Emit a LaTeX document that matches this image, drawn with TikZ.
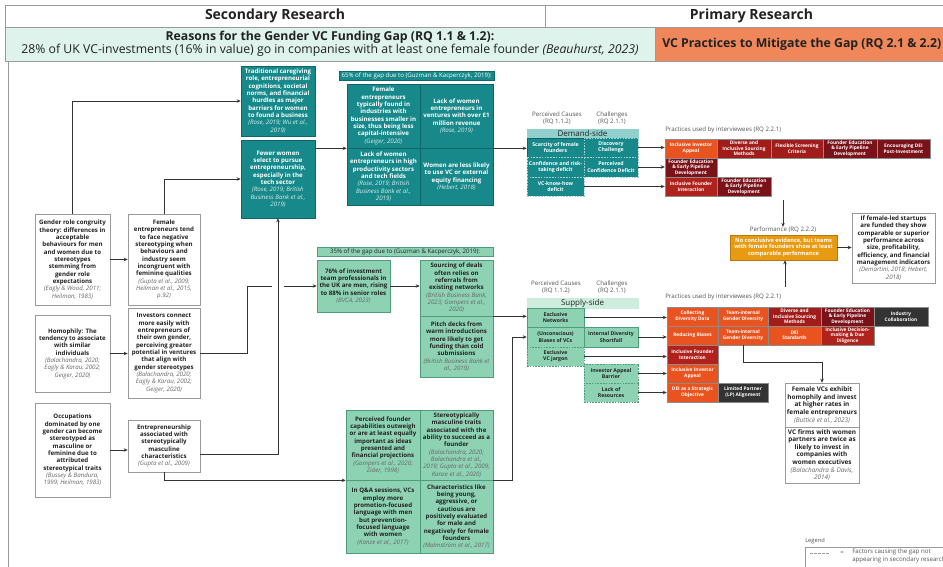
\documentclass[tikz,border=0pt]{standalone}
\usepackage{fontspec}
\setmainfont{Open Sans}
\usetikzlibrary{arrows.meta}
\definecolor{tealA}{HTML}{17898A}
\definecolor{tealD}{HTML}{0E6667}
\definecolor{tealL}{HTML}{92D0CE}
\definecolor{mintA}{HTML}{8ED2B4}
\definecolor{mintD}{HTML}{4E9C7C}
\definecolor{mintL}{HTML}{CDEDDF}
\definecolor{hdrmint}{HTML}{DDF3EC}
\definecolor{salmon}{HTML}{EF875A}
\definecolor{porange}{HTML}{E8531F}
\definecolor{pred}{HTML}{B0231C}
\definecolor{pdark}{HTML}{A11D1B}
\definecolor{pmaroon}{HTML}{7A1219}
\definecolor{pgrey}{HTML}{333333}
\definecolor{amber}{HTML}{E89A12}
\definecolor{boxgray}{HTML}{9A9A9A}
\definecolor{txtdark}{HTML}{222222}
\definecolor{citeg}{HTML}{666666}
\definecolor{lblg}{HTML}{555555}
\definecolor{linec}{HTML}{333333}
\newcommand\bx[7]{\node[#6, minimum width={(#4-(#2))*0.75pt}, minimum height={(#5-(#3))*0.75pt}] (#1) at ({(#2+#4)/2},{(#3+#5)/2}) {#7};}
\newcommand\cg[1]{{\mdseries\itshape\color{citeg}#1}}
\newcommand\cw[1]{{\mdseries\itshape\color{white!85!tealA}#1}}
\tikzset{
 base/.style={inner sep=0pt, align=center, font=\bfseries\fontsize{4.6}{5.5}\selectfont},
 wbox/.style={base, draw=boxgray, fill=white, text=txtdark, line width=0.5pt},
 tbox/.style={base, draw=tealD, fill=tealA, text=white, line width=0.5pt},
 gbox/.style={base, draw=mintD, fill=mintA, text=txtdark, line width=0.5pt},
 pc/.style={inner sep=0pt, align=center, font=\bfseries\fontsize{3.6}{4.2}\selectfont, text=white, draw=black!45, line width=0.35pt, fill=#1},
 dc/.style={inner sep=0pt, align=center, font=\bfseries\fontsize{3.9}{4.6}\selectfont, text=white, fill=tealA, draw=tealD, line width=0.5pt},
 sc/.style={inner sep=0pt, align=center, font=\bfseries\fontsize{3.9}{4.6}\selectfont, text=txtdark, fill=mintA, draw=mintD, line width=0.5pt},
 dsh/.style={dash pattern=on 1.2pt off 0.9pt},
 lbl/.style={inner sep=0pt, align=center, font=\fontsize{4.6}{5.6}\selectfont, text=lblg},
 arr/.style={draw=linec, line width=0.55pt, -{Stealth[length=3pt,width=2.6pt]}},
 ln/.style={draw=linec, line width=0.55pt},
 hcell/.style={inner sep=0pt, align=center, draw=boxgray, line width=0.5pt, text=txtdark},
}
\begin{document}
\begin{tikzpicture}[x=0.75pt,y=-0.75pt]
\useasboundingbox (0,0) rectangle (943,567);
\fill[white] (0,0) rectangle (943,567);
% header
\bx{hsec}{5}{5}{545}{27}{hcell, fill=white, font=\bfseries\fontsize{10.5}{12}\selectfont}{Secondary Research}
\bx{hpri}{545}{5}{958}{27}{hcell, fill=white, font=\bfseries\fontsize{10.5}{12}\selectfont}{Primary Research}
\bx{hgap}{5}{27}{655}{61}{hcell, fill=hdrmint, font=\fontsize{9.2}{10}\selectfont}{\textbf{Reasons for the Gender VC Funding Gap (RQ 1.1 \& 1.2):}\\28\% of UK VC-investments (16\% in value) go in companies with at least one female founder \textit{(Beauhurst, 2023)}}
\bx{hvc}{655}{27}{958}{61}{hcell, fill=salmon}{}
\node[anchor=west, inner sep=0pt, font=\bfseries\fontsize{9.2}{10}\selectfont, text=txtdark] (hvct) at (662,44) {VC Practices to Mitigate the Gap (RQ 2.1 \& 2.2)};
\draw[boxgray, line width=0.5pt] (8,61) -- (8,567);

% left column
\bx{grc}{35}{214}{110}{305}{wbox}{Gender role congruity\\theory: differences in\\acceptable\\behaviours for men\\and women due to\\stereotypes\\stemming from\\gender role\\expectations\\\cg{(Eagly \& Wood, 2011;}\\\cg{Heilman, 1983)}}
\bx{hom}{35}{315}{110}{392}{wbox}{Homophily: The\\tendency to associate\\with similar\\individuals\\\cg{(Balachandra, 2020;}\\\cg{Eagly \& Karau, 2002;}\\\cg{Geiger, 2020)}}
\bx{occ}{35}{403}{110}{497}{wbox}{Occupations\\dominated by one\\gender can become\\stereotyped as\\masculine or\\feminine due to\\attributed\\stereotypical traits\\\cg{(Bussey \& Bandura,}\\\cg{1999; Heilman, 1983)}}
\bx{fem}{128}{214}{200}{305}{wbox}{Female\\entrepreneurs tend\\to face negative\\stereotyping when\\behaviours and\\industry seem\\incongruent with\\feminine qualities\\\cg{(Gupta et al., 2009;}\\\cg{Heilman et al., 2015,}\\\cg{p.92)}}
\bx{inv}{128}{308}{200}{398}{wbox}{Investors connect\\more easily with\\entrepreneurs of\\their own gender,\\perceiving greater\\potential in ventures\\that align with\\gender stereotypes\\\cg{(Balachandra, 2020;}\\\cg{Eagly \& Karau, 2002;}\\\cg{Geiger, 2020)}}
\bx{ent}{128}{420}{200}{472}{wbox}{Entrepreneurship\\associated with\\stereotypically\\masculine\\characteristics\\\cg{(Gupta et al., 2009)}}

% teal
\bx{trad}{241}{66}{315}{136}{tbox}{Traditional caregiving\\role, entrepreneurial\\cognitions, societal\\norms, and financial\\hurdles as major\\barriers for women\\to found a business\\\cw{(Rose, 2019; Wu et al.,}\\\cw{2019)}}
\bx{few}{241}{140}{315}{218}{tbox}{Fewer women\\select to pursue\\entrepreneurship,\\especially in the\\tech sector\\\cw{(Rose, 2019; British}\\\cw{Business Bank et al.,}\\\cw{2019)}}
\bx{b65}{339}{71}{494}{80}{fill=tealA, draw=tealD, text=white, inner sep=0pt, line width=0.5pt, font=\fontsize{4.6}{5}\selectfont}{65\% of the gap due to (Guzman \& Kacperczyk, 2019):}
\bx{g1}{347}{84}{420}{148}{tbox}{Female\\entrepreneurs\\typically found in\\industries with\\businesses smaller in\\size, thus being less\\capital-intensive\\\cw{(Geiger, 2020)}}
\bx{g2}{420}{84}{493}{148}{tbox}{Lack of women\\entrepreneurs in\\ventures with over £1\\million revenue\\\cw{(Rose, 2019)}}
\bx{g3}{347}{148}{420}{205}{tbox}{Lack of women\\entrepreneurs in high\\productivity sectors\\and tech fields\\\cw{(Rose, 2019; British}\\\cw{Business Bank et al.,}\\\cw{2019)}}
\bx{g4}{420}{148}{493}{205}{tbox}{Women are less likely\\to use VC or external\\equity financing\\\cw{(Hebert, 2018)}}

% middle green
\bx{b35}{317}{247}{493}{256}{fill=mintA, draw=mintD, text=txtdark, inner sep=0pt, line width=0.5pt, font=\fontsize{4.6}{5}\selectfont}{35\% of the gap due to (Guzman \& Kacperczyk, 2019):}
\bx{m76}{317}{260}{390}{312}{gbox}{76\% of investment\\team professionals in\\the UK are men, rising\\to 88\% in senior roles\\\cg{(BVCA, 2023)}}
\bx{src}{420}{260}{493}{316}{gbox}{Sourcing of deals\\often relies on\\referrals from\\existing networks\\\cg{(British Business Bank,}\\\cg{2023; Gompers et al.,}\\\cg{2020)}}
\bx{pit}{420}{316}{493}{377}{gbox}{Pitch decks from\\warm introductions\\more likely to get\\funding than cold\\submissions\\\cg{(British Business Bank et}\\\cg{al., 2019)}}

% bottom green grid
\bx{q1}{346}{410}{420}{480}{gbox}{Perceived founder\\capabilities outweigh\\or are at least equally\\important as ideas\\presented and\\financial projections\\\cg{(Gompers et al., 2020;}\\\cg{Zider, 1998)}}
\bx{q2}{420}{410}{493}{480}{gbox}{Stereotypically\\masculine traits\\associated with the\\ability to succeed as a\\founder\\\cg{(Balachandra, 2020;}\\\cg{Balachandra et al.,}\\\cg{2019; Gupta et al., 2009;}\\\cg{Kanze et al., 2020)}}
\bx{q3}{346}{480}{420}{553}{gbox}{In Q\&A sessions, VCs\\employ more\\promotion-focused\\language with men\\but prevention-\\focused language\\with women\\\cg{(Kanze et al., 2017)}}
\bx{q4}{420}{480}{493}{553}{gbox}{Characteristics like\\being young,\\aggressive, or\\cautious are\\positively evaluated\\for male and\\negatively for female\\founders\\\cg{(Malmström et al., 2017)}}

% demand side
\node[lbl] (pcd) at (557,118) {Perceived Causes\\(RQ 1.1.2)};
\node[lbl] (chd) at (612,118) {Challenges\\(RQ 2.1.1)};
\bx{dhd}{527}{129}{638}{138}{fill=tealL, draw=tealL, inner sep=0pt, font=\fontsize{6}{7}\selectfont, text=txtdark}{Demand-side}
\bx{d1}{527}{138}{584}{157}{dc}{Scarcity of female\\founders}
\bx{d2}{584}{138}{638}{157}{dc, dsh, draw=white!60!tealA}{Discovery\\Challenge}
\bx{d3}{527}{157}{584}{177}{dc, dsh, draw=white!60!tealA}{Confidence and risk-\\taking deficit}
\bx{d4}{584}{157}{638}{177}{dc, dsh, draw=white!60!tealA}{Perceived\\Confidence Deficit}
\bx{d5}{527}{177}{584}{196}{dc, dsh, draw=white!60!tealA}{VC-know-how\\deficit}

% practices top
\node[lbl, anchor=west] (ptl) at (665,130) {Practices used by interviewees (RQ 2.2.1)};
\bx{t11}{665}{139}{717}{158}{pc=porange}{Inclusive Investor\\Appeal}
\bx{t12}{717}{139}{771}{158}{pc=pdark}{Diverse and\\Inclusive Sourcing\\Methods}
\bx{t13}{771}{139}{823}{158}{pc=pdark}{Flexible Screening\\Criteria}
\bx{t14}{823}{139}{877}{158}{pc=pmaroon}{Founder Education\\\& Early Pipeline\\Development}
\bx{t15}{877}{139}{930}{158}{pc=pmaroon}{Encouraging DEI\\Post-Investment}
\bx{t21}{665}{158}{717}{177}{pc=pmaroon}{Founder Education\\\& Early Pipeline\\Development}
\bx{t31}{665}{177}{717}{196}{pc=pred}{Inclusive Founder\\Interaction}
\bx{t32}{717}{177}{771}{196}{pc=pmaroon}{Founder Education\\\& Early Pipeline\\Development}

% performance
\coordinate (pdn) at (783,200);
\node[lbl] (perfl) at (783,230) {Performance (RQ 2.2.2)};
\bx{perf}{730}{235}{837}{260}{fill=amber, draw=amber!80!black, line width=0.4pt, text=white, inner sep=0pt, align=center, font=\bfseries\fontsize{4.2}{5.2}\selectfont}{No conclusive evidence, but teams\\with female founders show at least\\comparable performance}
\bx{perfr}{852}{213}{935}{283}{wbox}{If female-led startups\\are funded they show\\comparable or superior\\performance across\\size, profitability,\\efficiency, and financial\\management indicators\\\cg{(Demartini, 2018; Hebert,}\\\cg{2018)}}
\coordinate (pup) at (785,287);

% supply side
\node[lbl] (pcs) at (556,287) {Perceived Causes\\(RQ 1.1.2)};
\node[lbl] (chs) at (612,287) {Challenges\\(RQ 2.1.1)};
\bx{shd}{527}{298}{638}{308}{fill=mintL, draw=mintL, inner sep=0pt, font=\fontsize{6}{7}\selectfont, text=txtdark}{Supply-side}
\bx{s1}{527}{308}{584}{327}{sc}{Exclusive\\Networks}
\bx{s2}{527}{327}{584}{347}{sc}{(Unconscious)\\Biases of VCs}
\bx{s3}{584}{327}{638}{347}{sc}{Internal Diversity\\Shortfall}
\bx{s4}{527}{347}{584}{366}{sc, dsh}{Exclusive\\VC jargon}
\bx{s5}{584}{364}{638}{383}{sc, dsh}{Investor Appeal\\Barrier}
\bx{s6}{584}{383}{638}{402}{sc, dsh}{Lack of\\Resources}

% practices bottom
\node[lbl, anchor=west] (pbl) at (665,297) {Practices used by interviewees (RQ 2.2.1)};
\bx{u11}{667}{307}{718}{326}{pc=porange}{Collecting\\Diversity Data}
\bx{u12}{718}{307}{768}{326}{pc=porange}{Team-internal\\Gender Diversity}
\bx{u13}{768}{307}{821}{326}{pc=pdark}{Diverse and\\Inclusive Sourcing\\Methods}
\bx{u14}{821}{307}{874}{326}{pc=pmaroon}{Founder Education\\\& Early Pipeline\\Development}
\bx{u15}{874}{307}{928}{326}{pc=pgrey}{Industry\\Collaboration}
\bx{u21}{667}{326}{718}{345}{pc=porange}{Reducing Biases}
\bx{u22}{718}{326}{768}{345}{pc=porange}{Team-internal\\Gender Diversity}
\bx{u23}{768}{326}{821}{345}{pc=porange}{DEI\\Standards}
\bx{u24}{821}{326}{874}{345}{pc=pred}{Inclusive Decision-\\making \& Due\\Diligence}
\bx{u31}{667}{345}{718}{364}{pc=pred}{Inclusive Founder\\Interaction}
\bx{u41}{667}{364}{718}{383}{pc=porange}{Inclusive Investor\\Appeal}
\bx{u51}{667}{383}{718}{402}{pc=porange}{DEI as a Strategic\\Objective}
\bx{u52}{718}{383}{768}{402}{pc=pgrey}{Limited Partner\\(LP) Alignment}

% female VCs
\bx{fv1}{785}{383}{859}{427}{wbox, font=\bfseries\fontsize{4.8}{5.7}\selectfont}{Female VCs exhibit\\homophily and invest\\at higher rates in\\female entrepreneurs\\\cg{(Butticè et al., 2023)}}
\bx{fv2}{785}{427}{859}{483}{wbox, font=\bfseries\fontsize{4.8}{5.7}\selectfont}{VC firms with women\\partners are twice as\\likely to invest in\\companies with\\women executives\\\cg{(Balachandra \& Davis,}\\\cg{2014)}}

% legend
\node[lbl, anchor=west, font=\fontsize{4.3}{5}\selectfont] (leg) at (805,541) {Legend};
\draw[boxgray, line width=0.5pt] (805,547) rectangle (965,590);
\coordinate (lga) at (810,553);
\coordinate (lgb) at (830,553);
\draw[boxgray, line width=0.6pt, dash pattern=on 2pt off 1pt] (lga) -- (lgb);
\node[lbl] (legeq) at (842,553) {=};
\node[lbl, anchor=north west, align=left] (legt) at (852,549) {Factors causing the gap not\\appearing in secondary research};

% connectors left
\draw[arr] (grc.north) |- (trad.west);
\draw[arr] (fem.north) |- (few.west);
\draw[arr] (grc.east) -- (fem.west);
\draw[arr] (hom.east) -- (hom.east -| inv.west);
\draw[arr] (occ.east) -- (occ.east -| ent.west);
\draw[arr] (inv.east) -- ++(47,0) |- (m76.west);
\draw[white, line width=2.5pt] (272,286) -- (284,286);
\draw[arr] ([yshift=-6pt]ent.east) -| (few.south);
\draw[arr] (ent.south) |- (q1.south west);
\draw[arr] (few.east |- g1.south west) -- (g1.south west);
\draw[arr] (g2.south east) -- (g2.south east -| d1.west);
\draw[arr] (m76.east) -- (m76.east -| src.west);
\draw[arr] (src.south east) -- (src.south east -| s1.west);
\draw[arr] (q2.south east) -- ++(19,0) |- (s2.west);
% demand arrows
\draw[arr] (d2.east) -- (d2.east -| t11.west);
\draw[arr] (d4.east) -- (d4.east -| t21.west);
\draw[arr] (d5.east) -- (d5.east -| t31.west);
% supply arrows
\draw[arr] (s1.east) -- (s1.east -| u11.west);
\draw[arr] (s3.east) -- (s3.east -| u21.west);
\draw[arr] (s4.east) -- (s4.east -| u31.west);
\draw[arr] (s5.east) -- (s5.east -| u41.west);
\draw[arr] (s6.east) -- (s6.east -| u51.west);
% performance arrows
\draw[arr] (pdn) -- (pdn |- perfl.north);
\draw[arr] (perf.east) -- (perf.east -| perfr.west);
\draw[arr] (pup) -- (pup |- perf.south);
\draw[arr] (u22.south) -- ++(0,17) -| (fv1.north);
\end{tikzpicture}
\end{document}
